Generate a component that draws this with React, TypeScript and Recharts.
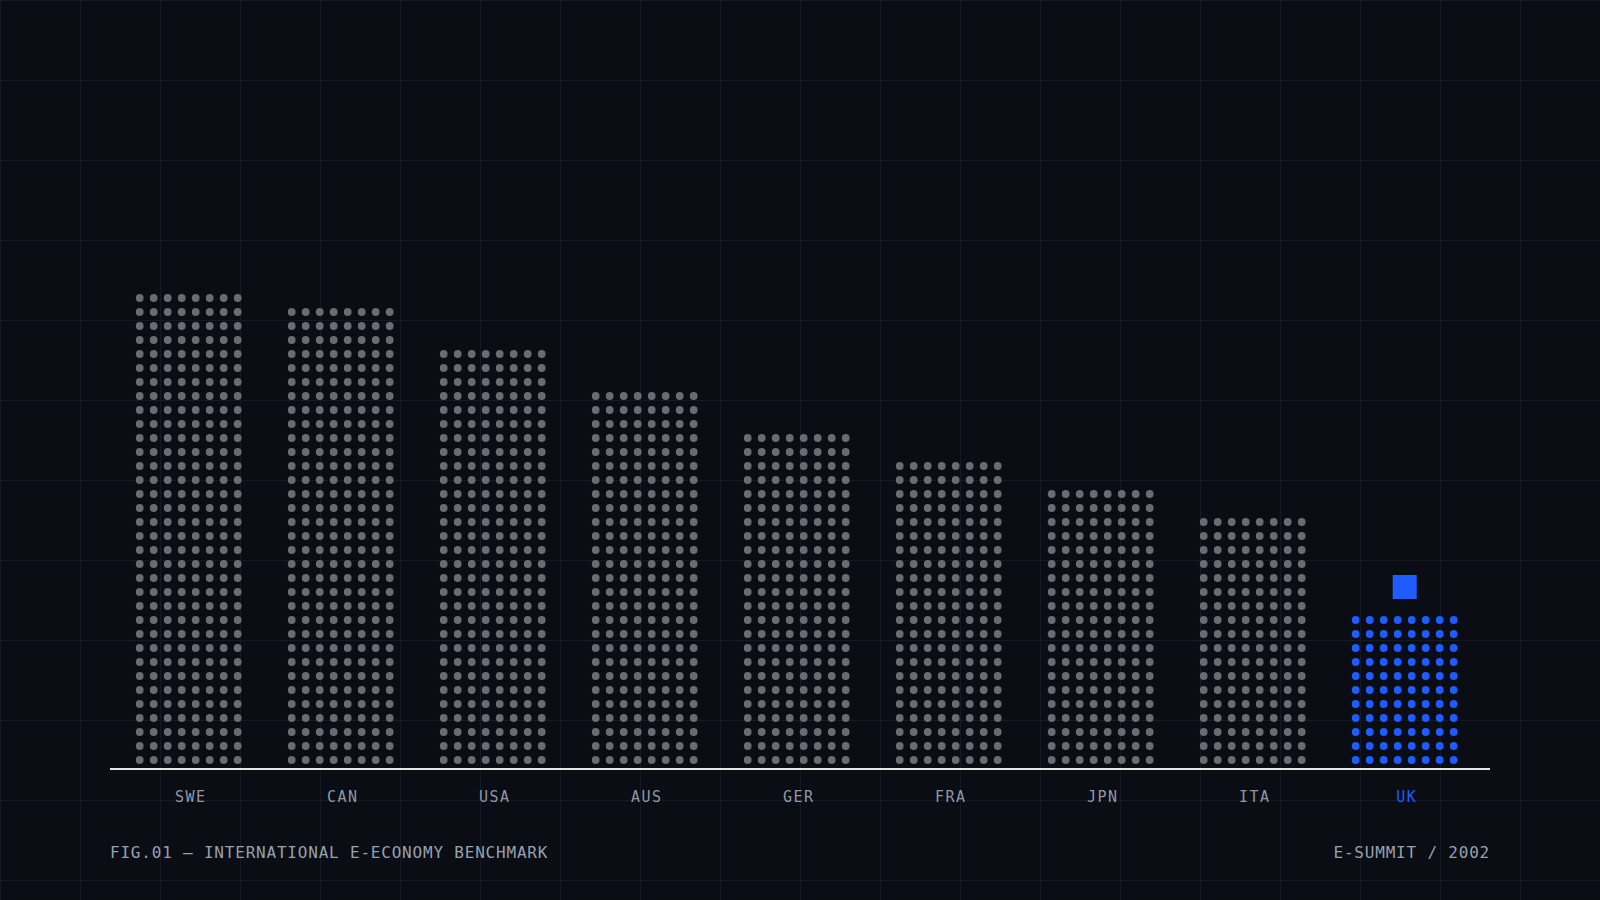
import React from "react";
import { BarChart, Bar, XAxis, YAxis } from "recharts";

// Dot-matrix benchmark: each dot row = one unit, 8 dots per row
const countries = ["SWE", "CAN", "USA", "AUS", "GER", "FRA", "JPN", "ITA", "UK"];
const dotRows = [34, 33, 30, 27, 24, 22, 20, 18, 11];
const highlight = "UK";
const yMax = 36;

const DOTS_PER_ROW = 8;
const PITCH = 14;
const GREY = "#6a6c73";
const BLUE = "#1e5cff";
const BG = "#0a0d14";

const data = countries.map((c, i) => ({ country: c, rows: dotRows[i] }));

function DotColumn(props: any) {
  const { x, y, width, height, payload } = props;
  const rows = payload.rows;
  if (!rows) return null;
  const cell = height / rows;
  const cx0 = x + width / 2;
  const isHi = payload.country === highlight;
  const fill = isHi ? BLUE : GREY;
  const dots = [];
  for (let r = 0; r < rows; r++) {
    for (let c = 0; c < DOTS_PER_ROW; c++) {
      dots.push(
        <circle
          key={`${r}-${c}`}
          cx={cx0 + (c - (DOTS_PER_ROW - 1) / 2) * PITCH}
          cy={y + height - 2 - (r + 0.5) * cell}
          r={3.9}
          fill={fill}
        />
      );
    }
  }
  return (
    <g>
      {dots}
      {/* marker above the highlighted country */}
      {isHi && <rect x={cx0 - 12} y={y - 40} width={24} height={24} fill={BLUE} />}
    </g>
  );
}

function CountryTick(props: any) {
  const { x, y, payload } = props;
  const isHi = payload.value === highlight;
  return (
    <text
      x={x + 2}
      y={y + 33}
      textAnchor="middle"
      fill={isHi ? BLUE : "#8f98a5"}
      style={{ fontFamily: "'DejaVu Sans Mono', monospace", fontSize: 15, letterSpacing: 1.5 }}
    >
      {payload.value}
    </text>
  );
}

export default function App() {
  return (
    <div
      style={{
        position: "absolute",
        left: 0,
        top: 0,
        width: 1600,
        height: 900,
        background: BG,
        backgroundImage:
          "linear-gradient(to right, #141922 1px, transparent 1px), linear-gradient(to bottom, #141922 1px, transparent 1px)",
        backgroundSize: "80px 80px",
        overflow: "hidden",
      }}
    >
      <BarChart
        width={1600}
        height={900}
        data={data}
        margin={{ top: 265, right: 110, bottom: 91, left: 110 }}
        barCategoryGap={0}
      >
        <XAxis
          dataKey="country"
          height={40}
          padding={{ left: 2.7, right: 9.3 }}
          axisLine={{ stroke: "#e6e6e6", strokeWidth: 2 }}
          tickLine={false}
          tickSize={0}
          tickMargin={0}
          tick={<CountryTick />}
          interval={0}
        />
        <YAxis hide domain={[0, yMax]} allowDataOverflow />
        <Bar dataKey="rows" barSize={104} shape={<DotColumn />} isAnimationActive={false} />
      </BarChart>
      <svg
        width={1600}
        height={900}
        style={{ position: "absolute", left: 0, top: 0, pointerEvents: "none" }}
      >
        <text
          x={110}
          y={858}
          fill="#97a0ad"
          style={{ fontFamily: "'DejaVu Sans Mono', monospace", fontSize: 16, letterSpacing: 0.8 }}
        >
          FIG.01 — INTERNATIONAL E-ECONOMY BENCHMARK
        </text>
        <text
          x={1490}
          y={858}
          textAnchor="end"
          fill="#97a0ad"
          style={{ fontFamily: "'DejaVu Sans Mono', monospace", fontSize: 16, letterSpacing: 0.8 }}
        >
          E-SUMMIT / 2002
        </text>
      </svg>
    </div>
  );
}
